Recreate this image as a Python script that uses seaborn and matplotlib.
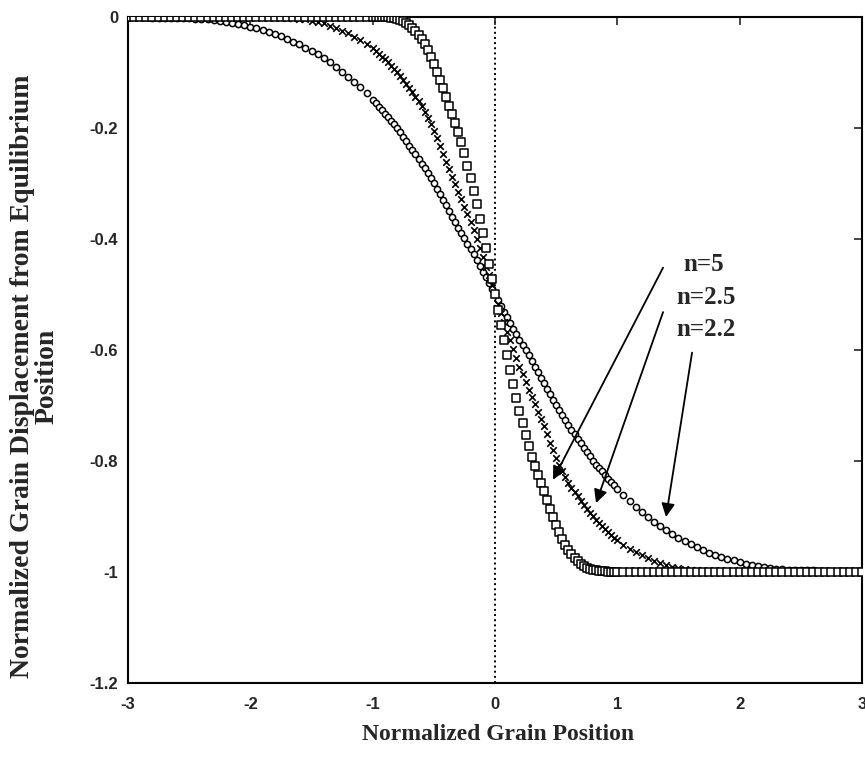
import matplotlib
matplotlib.use("Agg")
import matplotlib.pyplot as plt
from matplotlib.ticker import FuncFormatter
import seaborn as sns

# normalized grain position (denser sampling through the transition)
grain_pos = [
    -3.00, -2.95, -2.90, -2.85, -2.80, -2.75, -2.70, -2.65, -2.60, -2.55,
    -2.50, -2.45, -2.40, -2.35, -2.30, -2.25, -2.20, -2.15, -2.10, -2.05,
    -2.00, -1.95, -1.90, -1.85, -1.80, -1.75, -1.70, -1.65, -1.60, -1.55,
    -1.50, -1.45, -1.40, -1.35, -1.30, -1.25, -1.20, -1.15, -1.10, -1.05,
    -1.000, -0.975, -0.950, -0.925, -0.900, -0.875, -0.850, -0.825, -0.800, -0.775,
    -0.750, -0.725, -0.700, -0.675, -0.650, -0.625, -0.600, -0.575, -0.550, -0.525,
    -0.500, -0.475, -0.450, -0.425, -0.400, -0.375, -0.350, -0.325, -0.300, -0.275,
    -0.250, -0.225, -0.200, -0.175, -0.150, -0.125, -0.100, -0.075, -0.050, -0.025,
    0.000,
    0.025, 0.050, 0.075, 0.100, 0.125, 0.150, 0.175, 0.200, 0.225, 0.250,
    0.275, 0.300, 0.325, 0.350, 0.375, 0.400, 0.425, 0.450, 0.475, 0.500,
    0.525, 0.550, 0.575, 0.600, 0.625, 0.650, 0.675, 0.700, 0.725, 0.750,
    0.775, 0.800, 0.825, 0.850, 0.875, 0.900, 0.925, 0.950, 0.975, 1.000,
    1.05, 1.10, 1.15, 1.20, 1.25, 1.30, 1.35, 1.40, 1.45, 1.50,
    1.55, 1.60, 1.65, 1.70, 1.75, 1.80, 1.85, 1.90, 1.95, 2.00,
    2.05, 2.10, 2.15, 2.20, 2.25, 2.30, 2.35, 2.40, 2.45, 2.50,
    2.55, 2.60, 2.65, 2.70, 2.75, 2.80, 2.85, 2.90, 2.95, 3.00,
]

# n=2.2 (circles)
disp_n22 = [
    -0.001, -0.001, -0.001, -0.001, -0.002, -0.002, -0.002, -0.002, -0.003, -0.003,
    -0.003, -0.004, -0.004, -0.005, -0.006, -0.007, -0.009, -0.011, -0.013, -0.015,
    -0.018, -0.021, -0.024, -0.027, -0.031, -0.035, -0.040, -0.045, -0.050, -0.056,
    -0.062, -0.068, -0.075, -0.082, -0.090, -0.099, -0.108, -0.117, -0.127, -0.138,
    -0.150, -0.156, -0.162, -0.168, -0.175, -0.181, -0.187, -0.193, -0.200, -0.208,
    -0.216, -0.224, -0.232, -0.240, -0.248, -0.256, -0.265, -0.273, -0.282, -0.291,
    -0.300, -0.310, -0.320, -0.330, -0.340, -0.350, -0.360, -0.370, -0.380, -0.390,
    -0.399, -0.409, -0.418, -0.428, -0.438, -0.449, -0.459, -0.469, -0.479, -0.490,
    -0.500,
    -0.510, -0.521, -0.531, -0.541, -0.551, -0.562, -0.572, -0.582, -0.591, -0.601,
    -0.610, -0.620, -0.630, -0.640, -0.650, -0.660, -0.670, -0.680, -0.690, -0.700,
    -0.709, -0.718, -0.727, -0.735, -0.744, -0.752, -0.760, -0.768, -0.776, -0.784,
    -0.792, -0.800, -0.807, -0.813, -0.819, -0.825, -0.832, -0.838, -0.844, -0.850,
    -0.862, -0.873, -0.883, -0.892, -0.901, -0.910, -0.918, -0.925, -0.932, -0.938,
    -0.944, -0.950, -0.955, -0.960, -0.965, -0.969, -0.973, -0.976, -0.979, -0.982,
    -0.985, -0.987, -0.989, -0.991, -0.993, -0.994, -0.995, -0.996, -0.996, -0.997,
    -0.997, -0.997, -0.998, -0.998, -0.998, -0.998, -0.999, -0.999, -0.999, -0.999,
]

# n=2.5 (crosses)
disp_n25 = [
    0.0, 0.0, 0.0, 0.0, 0.0, 0.0, 0.0, 0.0, 0.0, 0.0,
    0.0, 0.0, 0.0, 0.0, 0.0, 0.0, 0.0, 0.0, 0.0, 0.0,
    0.0, 0.0, 0.0, 0.0, -0.001, -0.001, -0.002, -0.003, -0.004, -0.005,
    -0.007, -0.009, -0.012, -0.016, -0.020, -0.025, -0.030, -0.036, -0.042, -0.049,
    -0.057, -0.062, -0.067, -0.072, -0.077, -0.082, -0.088, -0.094, -0.100, -0.107,
    -0.114, -0.121, -0.128, -0.136, -0.144, -0.152, -0.160, -0.171, -0.182, -0.193,
    -0.205, -0.219, -0.233, -0.248, -0.262, -0.275, -0.288, -0.302, -0.315, -0.328,
    -0.342, -0.356, -0.370, -0.385, -0.401, -0.417, -0.433, -0.450, -0.466, -0.483,
    -0.500,
    -0.517, -0.534, -0.550, -0.567, -0.583, -0.599, -0.615, -0.630, -0.644, -0.658,
    -0.672, -0.685, -0.698, -0.712, -0.725, -0.738, -0.752, -0.767, -0.781, -0.795,
    -0.807, -0.818, -0.829, -0.840, -0.848, -0.856, -0.864, -0.872, -0.879, -0.886,
    -0.893, -0.900, -0.906, -0.912, -0.918, -0.923, -0.928, -0.933, -0.938, -0.943,
    -0.951, -0.958, -0.964, -0.970, -0.975, -0.980, -0.984, -0.988, -0.991, -0.993,
    -0.995, -0.996, -0.997, -0.998, -0.999, -0.999, -1.0, -1.0, -1.0, -1.0,
    -1.0, -1.0, -1.0, -1.0, -1.0, -1.0, -1.0, -1.0, -1.0, -1.0,
    -1.0, -1.0, -1.0, -1.0, -1.0, -1.0, -1.0, -1.0, -1.0, -1.0,
]

# n=5 (squares)
disp_n5 = [
    0.0, 0.0, 0.0, 0.0, 0.0, 0.0, 0.0, 0.0, 0.0, 0.0,
    0.0, 0.0, 0.0, 0.0, 0.0, 0.0, 0.0, 0.0, 0.0, 0.0,
    0.0, 0.0, 0.0, 0.0, 0.0, 0.0, 0.0, 0.0, 0.0, 0.0,
    0.0, 0.0, 0.0, 0.0, 0.0, 0.0, 0.0, 0.0, 0.0, 0.0,
    0.0, 0.0, 0.0, 0.0, -0.001, -0.001, -0.002, -0.003, -0.004, -0.006,
    -0.008, -0.011, -0.015, -0.020, -0.026, -0.033, -0.040, -0.049, -0.060, -0.072,
    -0.085, -0.099, -0.114, -0.129, -0.145, -0.160, -0.175, -0.191, -0.207, -0.226,
    -0.246, -0.268, -0.290, -0.314, -0.338, -0.364, -0.390, -0.417, -0.445, -0.472,
    -0.500,
    -0.528, -0.555, -0.583, -0.610, -0.636, -0.662, -0.686, -0.710, -0.732, -0.754,
    -0.774, -0.793, -0.809, -0.825, -0.840, -0.855, -0.871, -0.886, -0.901, -0.915,
    -0.928, -0.940, -0.951, -0.960, -0.967, -0.974, -0.980, -0.985, -0.989, -0.992,
    -0.994, -0.996, -0.997, -0.998, -0.999, -0.999, -1.0, -1.0, -1.0, -1.0,
    -1.0, -1.0, -1.0, -1.0, -1.0, -1.0, -1.0, -1.0, -1.0, -1.0,
    -1.0, -1.0, -1.0, -1.0, -1.0, -1.0, -1.0, -1.0, -1.0, -1.0,
    -1.0, -1.0, -1.0, -1.0, -1.0, -1.0, -1.0, -1.0, -1.0, -1.0,
    -1.0, -1.0, -1.0, -1.0, -1.0, -1.0, -1.0, -1.0, -1.0, -1.0,
]

x_ticks = [-3, -2, -1, 0, 1, 2, 3]
y_ticks = [0, -0.2, -0.4, -0.6, -0.8, -1, -1.2]

labels = ["n=5", "n=2.5", "n=2.2"]
label_pos = [(1.71, -0.447), (1.725, -0.506), (1.725, -0.564)]
arrow_start = [(1.374, -0.452), (1.374, -0.532), (1.611, -0.605)]
arrow_tip = [(0.474, -0.834), (0.826, -0.876), (1.398, -0.901)]

SERIF = ["Liberation Serif", "DejaVu Serif"]


def main():
    sns.set_style("white")
    plt.rcParams['font.family'] = ['Liberation Sans', 'DejaVu Sans']
    plt.rcParams['font.weight'] = 'bold'

    fig = plt.figure(figsize=(8.65, 7.73), dpi=100)
    ax = fig.add_axes([0.148, 0.1164, 0.8485, 0.862])

    ax.axvline(0, color='black', ls=':', lw=1.4, zorder=0)

    sns.scatterplot(x=grain_pos, y=disp_n22, marker='o', s=20, color='white',
                    edgecolor='black', linewidth=1.1, ax=ax, zorder=3)
    sns.scatterplot(x=grain_pos, y=disp_n25, marker='x', s=22, color='black',
                    linewidth=1.2, ax=ax, zorder=3)
    sns.scatterplot(x=grain_pos, y=disp_n5, marker='s', s=30, color='white',
                    edgecolor='black', linewidth=1.1, ax=ax, zorder=3)

    ax.set_xlim(-3, 3)
    ax.set_ylim(-1.2, 0)
    ax.set_xticks(x_ticks)
    ax.set_yticks(y_ticks)
    fmt = FuncFormatter(lambda v, p: '%g' % (round(v, 2) + 0.0))
    ax.xaxis.set_major_formatter(fmt)
    ax.yaxis.set_major_formatter(fmt)
    ax.tick_params(direction='in', length=6, width=1.2, top=True, right=True,
                   labelsize=12)
    ax.tick_params(axis='x', pad=10)
    ax.tick_params(axis='y', pad=7)
    for sp in ax.spines.values():
        sp.set_linewidth(1.5)
        sp.set_color('black')

    ax.set_xlabel('Normalized Grain Position', fontsize=17, family=SERIF,
                  fontweight='bold', va='center')
    ax.xaxis.set_label_coords(0.504, -0.078)
    ax.set_ylabel('Normalized Grain Displacement from Equilibrium\nPosition',
                  fontsize=20, family=SERIF, fontweight='bold', va='center',
                  linespacing=0.95)
    ax.yaxis.set_label_coords(-0.127, 0.46)

    for lab, lp, st, tp in zip(labels, label_pos, arrow_start, arrow_tip):
        ax.annotate('', xy=tp, xytext=st,
                    arrowprops=dict(arrowstyle='-|>', color='black', lw=1.3,
                                    mutation_scale=20, shrinkA=0, shrinkB=0))
        ax.text(lp[0], lp[1], lab, ha='center', va='center', fontsize=18,
                family=SERIF, fontweight='bold')

    fig.savefig('out.png', dpi=100)


if __name__ == '__main__':
    main()
